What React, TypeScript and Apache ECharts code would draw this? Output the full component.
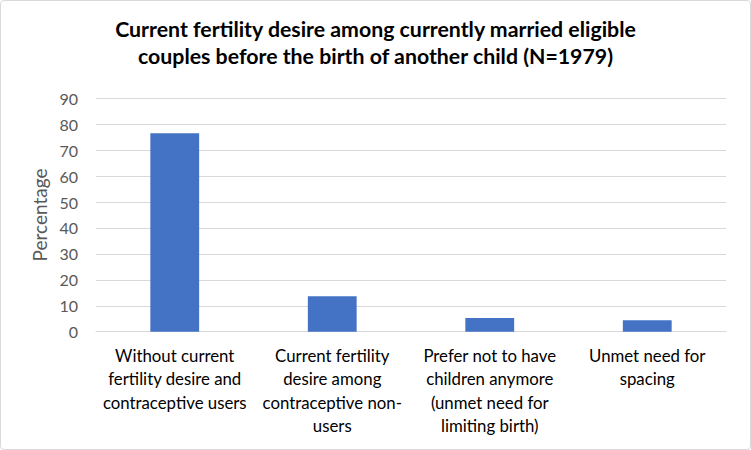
import React, { useEffect, useRef } from "react";
import * as echarts from "echarts";

const categories = [
  "Without current\nfertility desire and\ncontraceptive users",
  "Current fertility\ndesire among\ncontraceptive non-\nusers",
  "Prefer not to have\nchildren anymore\n(unmet need for\nlimiting birth)",
  "Unmet need for\nspacing",
];
const values = [76.5, 13.7, 5.3, 4.4];
const titleLines = [
  "Current fertility desire among currently married eligible",
  "couples before the birth of another child (N=1979)",
];
const yAxisName = "Percentage";

const FONT = "Lato, 'Open Sans', sans-serif";

export default function App() {
  const ref = useRef<HTMLDivElement>(null);
  useEffect(() => {
    if (!ref.current) return;
    const chart = echarts.init(ref.current, undefined, { renderer: "svg" });
    chart.setOption({
      animation: false,
      title: {
        text: titleLines.join("\n"),
        left: "center",
        top: 9,
        textStyle: {
          fontFamily: FONT,
          fontSize: 21.3,
          fontWeight: "bold",
          color: "#000000",
          lineHeight: 27,
        },
      },
      grid: { left: 95, right: 24, top: 97.3, bottom: 117.3, containLabel: false },
      xAxis: {
        type: "category",
        data: categories,
        axisLine: { show: true, lineStyle: { color: "#d9d9d9", width: 1 } },
        axisTick: { show: false },
        axisLabel: {
          interval: 0,
          fontFamily: FONT,
          fontSize: 16.8,
          color: "#000000",
          lineHeight: 23.5,
          margin: 12,
        },
      },
      yAxis: {
        type: "value",
        min: 0,
        max: 90,
        interval: 10,
        name: yAxisName,
        nameLocation: "middle",
        nameGap: 47,
        nameTextStyle: { fontFamily: FONT, fontSize: 19, color: "#595959" },
        axisLine: { show: false },
        axisTick: { show: false },
        splitLine: { lineStyle: { color: "#d9d9d9", width: 1 } },
        axisLabel: {
          fontFamily: FONT,
          fontSize: 16,
          color: "#595959",
          margin: 18,
        },
      },
      series: [
        {
          type: "bar",
          data: values,
          barWidth: "31%",
          itemStyle: { color: "#4472C4" },
        },
      ],
    });
    return () => chart.dispose();
  }, []);
  return (
    <div
      style={{
        position: "fixed",
        left: 0,
        top: 0,
        width: 751,
        height: 450,
        boxSizing: "border-box",
        border: "1px solid #d9d9d9",
        borderRadius: 4,
        background: "#ffffff",
        overflow: "hidden",
      }}
    >
      <div ref={ref} style={{ width: 749, height: 448 }} />
    </div>
  );
}
